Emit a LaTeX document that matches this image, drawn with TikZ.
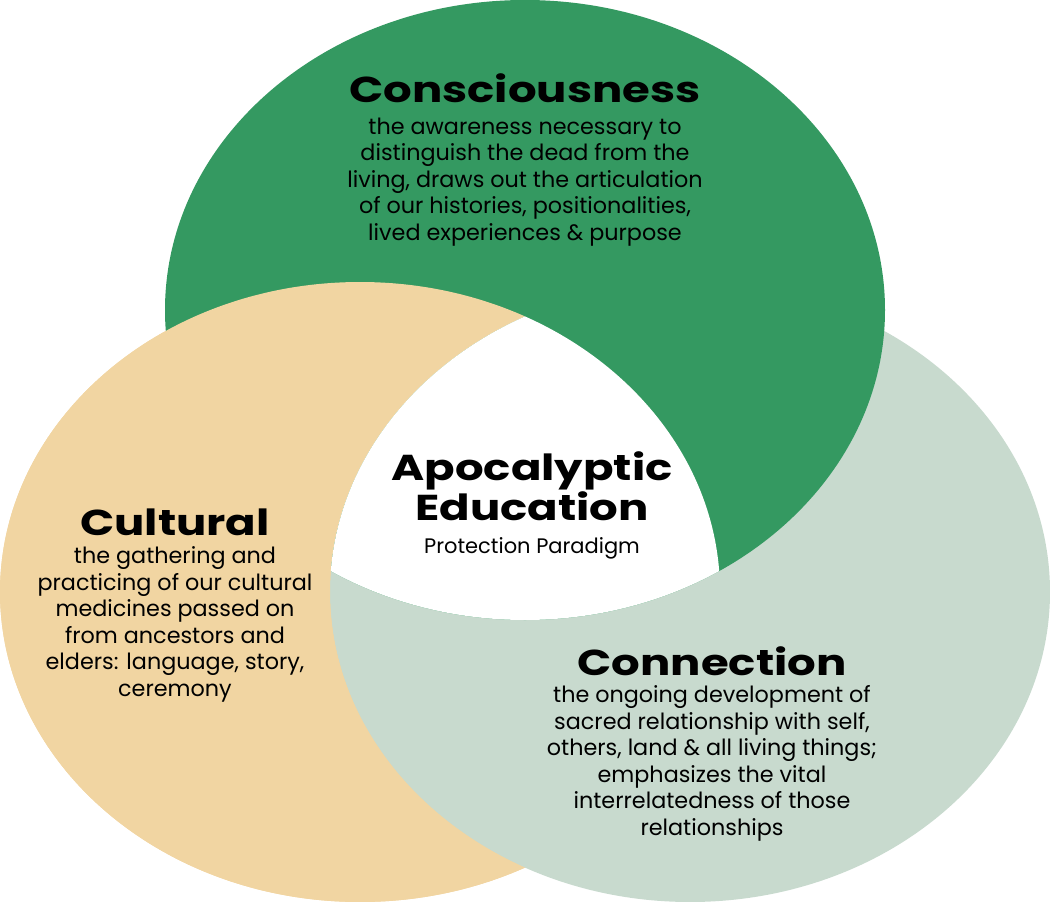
\documentclass[tikz,border=0pt]{standalone}
\usepackage{fontspec}
\setmainfont{Poppins}
\newfontfamily\headfont{Poppins}[FakeStretch=1.25]
\usetikzlibrary{positioning}

\definecolor{consGreen}{RGB}{52,153,97}
\definecolor{cultTan}{RGB}{241,213,162}
\definecolor{connSage}{RGB}{200,218,206}

\begin{document}
\begin{tikzpicture}[
    x=1pt, y=-1pt,
    every node/.style={inner sep=0pt, align=center},
    ring/.style={x radius=360pt, y radius=310pt},
    headtext/.style={font=\headfont\bfseries\fontsize{36}{37}\selectfont},
    bodytext/.style={font=\fontsize{22.3}{26.5}\selectfont},
    smalltext/.style={font=\fontsize{21}{23}\selectfont},
]
\useasboundingbox (0,0) rectangle (1050,902);

% --- Three rings ---
\fill[cultTan]   (360,592) ellipse [ring];
\fill[connSage]  (690,592) ellipse [ring];
\fill[consGreen] (525,310) ellipse [ring];

% --- Tan over green, outside the sage ring ---
\begin{scope}
  \clip (360,592) ellipse [ring];
  \begin{scope}[even odd rule]
    \clip (-10,-10) rectangle (1060,912) (690,592) ellipse [ring];
    \fill[cultTan] (-10,-10) rectangle (1060,912);
  \end{scope}
\end{scope}

% --- Shared centre ---
\begin{scope}
  \clip (360,592) ellipse [ring];
  \clip (690,592) ellipse [ring];
  \fill[white] (525,310) ellipse [ring];
\end{scope}

% --- Consciousness ---
\node[headtext, anchor=base] (consHead) at (525,102) {Consciousness};
\node[bodytext, below=15pt of consHead] (consText)
    {the awareness necessary to\\
     distinguish the dead from the\\
     living, draws out the articulation\\
     of our histories, positionalities,\\
     lived experiences \& purpose};

% --- Cultural ---
\node[headtext, anchor=base] (cultHead) at (175,535) {Cultural};
\node[bodytext, below=11pt of cultHead] (cultText)
    {the gathering and\\
     practicing of our cultural\\
     medicines passed on\\
     from ancestors and\\
     elders: language, story,\\
     ceremony};

% --- Connection ---
\node[headtext, anchor=base] (connHead) at (712,675) {Connection};
\node[bodytext, below=10pt of connHead] (connText)
    {the ongoing development of\\
     sacred relationship with self,\\
     others, land \& all living things;\\
     emphasizes the vital\\
     interrelatedness of those\\
     relationships};

% --- Centre ---
\node[headtext, anchor=base] (centreHead) at (532,520) {Apocalyptic\\Education};
\node[smalltext, anchor=base] (centreText) at (532,553) {Protection Paradigm};

\end{tikzpicture}
\end{document}
